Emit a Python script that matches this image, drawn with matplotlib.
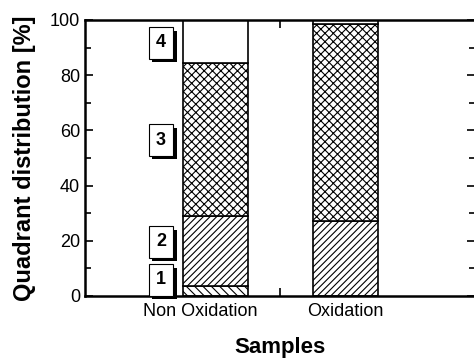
import matplotlib.pyplot as plt
import matplotlib.patheffects as pe

### data
samples = ['Non Oxidation', 'Oxidation']
q1 = [3.6, 0.0]
q2 = [25.4, 27.2]
q3 = [55.4, 71.3]
q4 = [15.6, 1.5]
quadrants = ['1', '2', '3', '4']
label_y = [5.8, 19.6, 56.5, 91.7]

plt.rcParams['font.family'] = ['Liberation Sans', 'DejaVu Sans']
plt.rcParams['hatch.linewidth'] = 0.8

fig = plt.figure(figsize=(4.74, 3.58), dpi=100)
ax = fig.add_axes([85/474, 62/358, 390/474, 276/358])

xpos = [1, 2]
b1 = [0, 0]
b2 = [q1[i] for i in range(2)]
b3 = [q1[i] + q2[i] for i in range(2)]
b4 = [q1[i] + q2[i] + q3[i] for i in range(2)]
kw = dict(width=0.5, color='white', edgecolor='black', linewidth=1.2)
ax.bar(xpos, q1, bottom=b1, hatch='\\\\\\\\', **kw)
ax.bar(xpos, q2, bottom=b2, hatch='/////', **kw)
ax.bar(xpos, q3, bottom=b3, hatch='xxxx', **kw)
ax.bar(xpos, q4, bottom=b4, **kw)

# numbered boxes with shadow
for lab, yy in zip(quadrants, label_y):
    t = ax.text(0.585, yy, lab, ha='center', va='center', fontsize=13, fontweight='bold',
                bbox=dict(boxstyle='square,pad=0.4', fc='white', ec='black', lw=0.8))
    t.get_bbox_patch().set_path_effects([
        pe.withSimplePatchShadow(offset=(2.5, -2.5), shadow_rgbFace='black', alpha=1.0)])

ax.set_xlim(0, 3)
ax.set_ylim(0, 100)
# label of first sample sits a bit left of its bar in the original
ax.set_xticks([0.89, 2])
ax.set_xticklabels(samples, fontsize=13)
ax.set_xticks([1.5], minor=True)
ax.tick_params(axis='x', which='major', length=0, pad=5)
ax.tick_params(axis='x', which='minor', direction='in', length=6, width=1.2, top=True, bottom=True)
ax.set_yticks([0, 20, 40, 60, 80, 100])
ax.set_yticks(range(10, 100, 20), minor=True)
ax.tick_params(axis='y', which='both', direction='in', left=True, right=True, width=1.2)
ax.tick_params(axis='y', which='major', length=6, labelsize=13)
ax.tick_params(axis='y', which='minor', length=4)
for s in ax.spines.values():
    s.set_linewidth(1.8)

ax.set_ylabel('Quadrant distribution [%]', fontsize=17, fontweight='bold', labelpad=10)
ax.set_xlabel('Samples', fontsize=16, fontweight='bold', labelpad=12)

fig.savefig('out.png', dpi=100)
